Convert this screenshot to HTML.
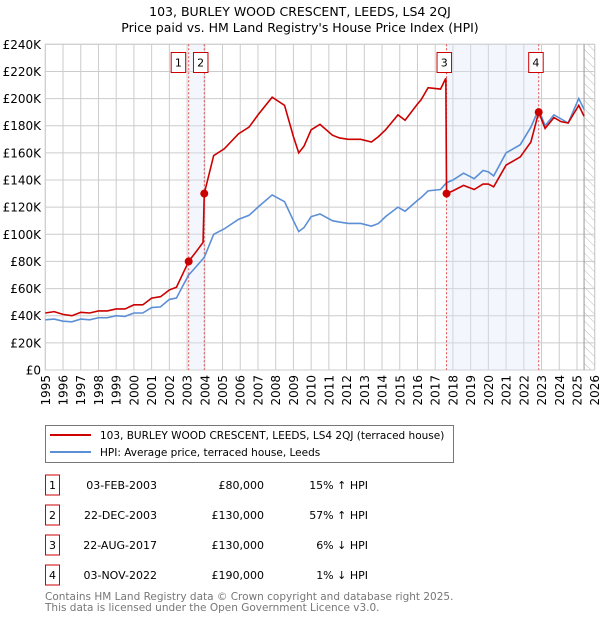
<!DOCTYPE html>
<html><head><meta charset="utf-8"><style>
body{margin:0;background:#fff;width:600px;height:620px;overflow:hidden;font-family:"DejaVu Sans","Liberation Sans",sans-serif}
svg text{font-family:"DejaVu Sans","Liberation Sans",sans-serif}
</style></head><body>
<svg id="chart" width="600" height="620" xmlns="http://www.w3.org/2000/svg">
<defs><pattern id="hatch" width="6" height="6" patternUnits="userSpaceOnUse" patternTransform="rotate(-45)"><line x1="0" y1="0" x2="0" y2="6" stroke="#bbb" stroke-width="1"/></pattern></defs>
<text x="300" y="16" text-anchor="middle" font-size="12.5" fill="#000">103, BURLEY WOOD CRESCENT, LEEDS, LS4 2QJ</text>
<text x="300" y="32" text-anchor="middle" font-size="12.5" fill="#000">Price paid vs. HM Land Registry's House Price Index (HPI)</text>
<g id="grid"></g><g id="shades"></g><g id="axes"></g><g id="series"></g><g id="markers"></g>
<g>
<rect x="45.5" y="425.5" width="408" height="37" fill="#fff" stroke="#777"/>
<line x1="50" y1="435" x2="91" y2="435" stroke="#cc0000" stroke-width="2"/>
<text x="100" y="439" font-size="10.5">103, BURLEY WOOD CRESCENT, LEEDS, LS4 2QJ (terraced house)</text>
<line x1="50" y1="452" x2="91" y2="452" stroke="#5b8fd6" stroke-width="2"/>
<text x="100" y="456" font-size="10.5">HPI: Average price, terraced house, Leeds</text>
</g>
<g id="table"></g>
<text x="45" y="600" font-size="10.5" fill="#777">Contains HM Land Registry data © Crown copyright and database right 2025.</text>
<text x="45" y="611" font-size="10.5" fill="#777">This data is licensed under the Open Government Licence v3.0.</text>
</svg>
<script>
const hpiDates=[1995,1995.5,1996,1996.5,1997,1997.5,1998,1998.5,1999,1999.5,2000,2000.5,2001,2001.5,2002,2002.4,2002.8,2003.09,2003.5,2003.97,2004.5,2005.1,2005.9,2006.5,2007.0,2007.8,2008.5,2009.0,2009.3,2009.6,2010.0,2010.5,2011.2,2011.6,2012.1,2012.8,2013.4,2013.8,2014.2,2014.9,2015.3,2016.0,2016.2,2016.6,2017.3,2017.64,2018.0,2018.6,2019.2,2019.7,2020.0,2020.3,2021.0,2021.4,2021.8,2022.4,2022.84,2023.2,2023.7,2024.1,2024.5,2025.1,2025.4];
const hpiValues=[37,37.5,36,35.5,37.5,37,38.5,38.5,40,39.5,42,42,46,46.5,52,53,63,70,76,83,100,104,111,114,120,129,124,110,102,105,113,115,110,109,108,108,106,108,113,120,117,125,127,132,133,138,140,145,141,147,146,143,160,163,166,179,192,180,188,185,182,200,192];
const priceDates=[1995,1995.5,1996,1996.5,1997,1997.5,1998,1998.5,1999,1999.5,2000,2000.5,2001,2001.5,2002,2002.4,2002.8,2003.09,2003.5,2003.9,2003.97,2004.5,2005.1,2005.9,2006.5,2007.0,2007.8,2008.5,2009.0,2009.3,2009.6,2010.0,2010.5,2011.2,2011.6,2012.1,2012.8,2013.4,2013.8,2014.2,2014.9,2015.3,2016.0,2016.2,2016.6,2017.3,2017.6,2017.64,2018.0,2018.6,2019.2,2019.7,2020.0,2020.3,2021.0,2021.4,2021.8,2022.4,2022.84,2023.2,2023.7,2024.1,2024.5,2025.1,2025.4];
const priceValues=[42,43,41,40,42.5,42,43.5,43.5,45,45,48,48,53,54,59,61,72,80,87,94,130,158,163,174,179,188,201,195,172,160,165,177,181,173,171,170,170,168,172,177,188,184,196,199,208,207,215,130,132,136,133,137,137,135,151,154,157,168,190,178,186,183,182,195,187];
const yTicks=[0,20,40,60,80,100,120,140,160,180,200,220,240];
const yLabels=["£0","£20K","£40K","£60K","£80K","£100K","£120K","£140K","£160K","£180K","£200K","£220K","£240K"];
const xYears=[1995,1996,1997,1998,1999,2000,2001,2002,2003,2004,2005,2006,2007,2008,2009,2010,2011,2012,2013,2014,2015,2016,2017,2018,2019,2020,2021,2022,2023,2024,2025,2026];
const saleIds=["1","2","3","4"];
const saleDates=[2003.09,2003.97,2017.64,2022.84];
const saleValues=[80,130,130,190];
const saleDateText=["03-FEB-2003","22-DEC-2003","22-AUG-2017","03-NOV-2022"];
const salePriceText=["£80,000","£130,000","£130,000","£190,000"];
const saleHpiText=["15% ↑ HPI","57% ↑ HPI","6% ↓ HPI","1% ↓ HPI"];

const X0=45.3,X1=594.7,Y0=370,Y1=44.3;
const xs=y=>X0+(y-1995)/(2026-1995)*(X1-X0);
const ys=v=>Y0-v/240*(Y0-Y1);
const NS="http://www.w3.org/2000/svg";
function mk(tag,attrs,parent,txt){const e=document.createElementNS(NS,tag);for(const k in attrs)e.setAttribute(k,attrs[k]);if(txt!=null)e.textContent=txt;parent.appendChild(e);return e;}
const grid=document.getElementById('grid'),shades=document.getElementById('shades'),axes=document.getElementById('axes'),series=document.getElementById('series'),markers=document.getElementById('markers'),table=document.getElementById('table');
yTicks.forEach((t,i)=>{
  const l=mk('line',{x1:X0,x2:X1,y1:ys(t),y2:ys(t),stroke:'#ccc'},grid);
  
  
  const tx=mk('text',{x:41,y:ys(t)+4.5,'text-anchor':'end','font-size':12},axes,yLabels[i]);
  
  
});
xYears.forEach(yr=>{
  const l=mk('line',{x1:xs(yr),x2:xs(yr),y1:Y1,y2:Y0,stroke:'#ccc'},grid);
  
  
  const tx=mk('text',{x:0,y:0,'text-anchor':'end','font-size':12,transform:`translate(${xs(yr)+4.5},${Y0+5}) rotate(-90)`},axes,String(yr));
  
  
});
[[0,1],[2,3]].forEach(p=>{
  const r=mk('rect',{x:xs(saleDates[p[0]]),y:Y1,width:xs(saleDates[p[1]])-xs(saleDates[p[0]]),height:Y0-Y1,fill:'#dde8f8','fill-opacity':0.35},shades);
  
  
});
const hx=xs(2025.4);
const hr=mk('rect',{x:hx,y:Y1,width:X1-hx,height:Y0-Y1,fill:'url(#hatch)'},shades);


const hl=mk('line',{x1:hx,x2:hx,y1:Y1,y2:Y0,stroke:'#999'},shades);


const fr=mk('rect',{x:X0,y:Y1,width:X1-X0,height:Y0-Y1,fill:'none',stroke:'#ccc'},grid);


saleDates.forEach((d,i)=>{
  const l=mk('line',{x1:xs(d),x2:xs(d),y1:Y1,y2:Y0,stroke:'#e05050','stroke-dasharray':'2,2'},shades);
  
  
});
const hp=mk('polyline',{points:hpiDates.map((d,i)=>xs(d)+','+ys(hpiValues[i])).join(' '),fill:'none',stroke:'#5b8fd6','stroke-width':1.6},series);


const pp=mk('polyline',{points:priceDates.map((d,i)=>xs(d)+','+ys(priceValues[i])).join(' '),fill:'none',stroke:'#cc0000','stroke-width':1.6},series);


const boxOff=[-10.5,-3.8,-2.5,-3];
saleDates.forEach((d,i)=>{
  const c=mk('circle',{cx:xs(d),cy:ys(saleValues[i]),r:4,fill:'#cc0000'},markers);
  
  
  const bx=xs(d)+boxOff[i]-7;
  const b=mk('rect',{x:bx,y:52.5,width:14.5,height:20,fill:'#fff',stroke:'#cc0000'},markers);
  
  
  mk('text',{x:bx+7.2,y:66.5,'text-anchor':'middle','font-size':11},markers,saleIds[i]);
  const ry=483+i*30;
  const rb=mk('rect',{x:45.5,y:ry-8,width:14,height:20,fill:'#fff',stroke:'#cc0000'},table);
  
  
  mk('text',{x:52.5,y:ry+6,'text-anchor':'middle','font-size':11},table,saleIds[i]);
  const t1=mk('text',{x:157,y:ry+6,'text-anchor':'end','font-size':11},table,saleDateText[i]);
  
  
  const t2=mk('text',{x:264,y:ry+6,'text-anchor':'end','font-size':11},table,salePriceText[i]);
  
  
  const t3=mk('text',{x:368,y:ry+6,'text-anchor':'end','font-size':11},table,saleHpiText[i]);
  
  
});
</script>
</body></html>
